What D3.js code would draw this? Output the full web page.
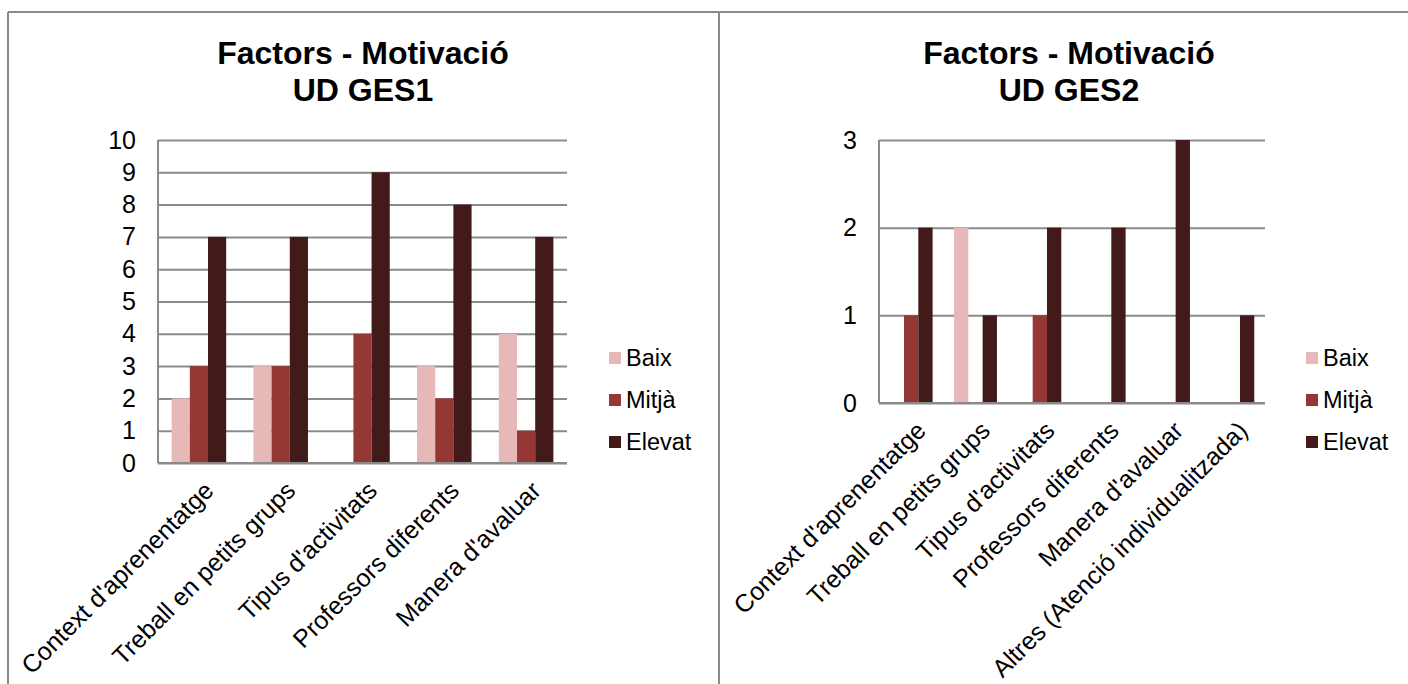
<!DOCTYPE html>
<html>
<head>
<meta charset="utf-8">
<script src="https://cdn.jsdelivr.net/npm/d3@7"></script>
<style>
  html, body { margin: 0; padding: 0; background: #fff; }
  svg { display: block; font-family: "Liberation Sans", Arial, sans-serif; }
</style>
</head>
<body>
<svg id="chart" width="1408" height="684"></svg>
<script>
// Series shared by both panels
const series = ["Baix", "Mitjà", "Elevat"];
const seriesColors = ["#e6b8b7", "#953735", "#421a1a"];

// Panel 1: UD GES1
const categories1 = ["Context d'aprenentatge", "Treball en petits grups", "Tipus d'activitats", "Professors diferents", "Manera d'avaluar"];
const baix1   = [2, 3, 0, 3, 4];
const mitja1  = [3, 3, 4, 2, 1];
const elevat1 = [7, 7, 9, 8, 7];
const ticks1  = [0, 1, 2, 3, 4, 5, 6, 7, 8, 9, 10];

// Panel 2: UD GES2
const categories2 = ["Context d'aprenentatge", "Treball en petits grups", "Tipus d'activitats", "Professors diferents", "Manera d'avaluar", "Altres (Atenció individualitzada)"];
const baix2   = [0, 2, 0, 0, 0, 0];
const mitja2  = [1, 0, 1, 0, 0, 0];
const elevat2 = [2, 1, 2, 2, 3, 1];
const ticks2  = [0, 1, 2, 3];

const svg = d3.select("#chart");
const gridColor = "#8a8a8a";

// Outer table-like frame with a divider between the two panels
const frame = svg.append("g").attr("fill", "none").attr("stroke", gridColor).attr("stroke-width", 2);
frame.append("line").attr("x1", 8).attr("x2", 1408).attr("y1", 12).attr("y2", 12);
frame.append("line").attr("x1", 8).attr("x2", 8).attr("y1", 12).attr("y2", 684);
frame.append("line").attr("x1", 719).attr("x2", 719).attr("y1", 12).attr("y2", 684);

function drawPanel(cfg) {
  const g = svg.append("g");
  const rows = cfg.categories.map((c, i) => ({
    cat: c,
    values: series.map((s, k) => ({ key: s, value: cfg.values[k][i], color: seriesColors[k] }))
  }));

  const x = d3.scaleBand().domain(cfg.categories).range([cfg.x0, cfg.x1]).paddingInner(0).paddingOuter(0);
  const xs = d3.scaleBand().domain(series).range([0, x.bandwidth()]).paddingInner(0).paddingOuter(0.75);
  const y = d3.scaleLinear().domain([0, cfg.max]).range([cfg.yBottom, cfg.yTop]);

  // Title
  const title = g.append("text")
    .attr("x", cfg.titleX).attr("text-anchor", "middle")
    .attr("font-weight", "bold").attr("font-size", 32).attr("fill", "#000");
  title.append("tspan").attr("x", cfg.titleX).attr("y", 64).text("Factors - Motivació");
  title.append("tspan").attr("x", cfg.titleX).attr("y", 101).text(cfg.subtitle);

  // Horizontal gridlines + value labels
  const yAxis = d3.axisLeft(y).tickValues(cfg.ticks).tickFormat(d3.format("d"))
    .tickSize(-(cfg.x1 - cfg.x0)).tickPadding(22);
  const ya = g.append("g").attr("transform", `translate(${cfg.x0},0)`).call(yAxis);
  ya.select(".domain").remove();
  ya.selectAll(".tick line").attr("stroke", gridColor).attr("stroke-width", 2);
  ya.selectAll(".tick text").attr("font-size", 25).attr("fill", "#000")
    .attr("font-family", "Liberation Sans, Arial, sans-serif");

  // Vertical value axis line
  g.append("line").attr("x1", cfg.x0).attr("x2", cfg.x0)
    .attr("y1", cfg.yTop).attr("y2", cfg.yBottom)
    .attr("stroke", gridColor).attr("stroke-width", 2);

  // Bars
  const groups = g.selectAll(".grp").data(rows).join("g")
    .attr("transform", d => `translate(${x(d.cat)},0)`);
  groups.selectAll("rect").data(d => d.values.filter(v => v.value > 0)).join("rect")
    .attr("x", d => xs(d.key))
    .attr("width", xs.bandwidth())
    .attr("y", d => y(d.value))
    .attr("height", d => y(0) - y(d.value))
    .attr("fill", d => d.color);

  // Category axis line on top of bars
  g.append("line").attr("x1", cfg.x0).attr("x2", cfg.x1)
    .attr("y1", y(0)).attr("y2", y(0))
    .attr("stroke", gridColor).attr("stroke-width", 2);

  // Category labels, rotated 45°
  const xAxis = d3.axisBottom(x).tickSize(0).tickPadding(0);
  const xa = g.append("g").attr("transform", `translate(0,${cfg.yBottom})`).call(xAxis);
  xa.select(".domain").remove();
  xa.selectAll(".tick text")
    .attr("font-size", 25).attr("fill", "#000")
    .attr("font-family", "Liberation Sans, Arial, sans-serif")
    .attr("text-anchor", "end")
    .attr("y", 0).attr("dy", "0.35em")
    .attr("transform", "translate(10,23) rotate(-45)");

  // Legend
  const lg = g.append("g").attr("transform", `translate(${cfg.legendX},0)`);
  series.forEach((s, k) => {
    const yy = 352 + k * 42;
    lg.append("rect").attr("x", 0).attr("y", yy).attr("width", 12).attr("height", 12).attr("fill", seriesColors[k]);
    lg.append("text").attr("x", 17).attr("y", yy + 14).attr("font-size", 23.5).attr("fill", "#000").text(s);
  });
}

drawPanel({
  categories: categories1, values: [baix1, mitja1, elevat1], ticks: ticks1, max: 10,
  x0: 158, x1: 567, yTop: 140, yBottom: 463, titleX: 363, subtitle: "UD GES1", legendX: 609
});
drawPanel({
  categories: categories2, values: [baix2, mitja2, elevat2], ticks: ticks2, max: 3,
  x0: 879, x1: 1265, yTop: 140, yBottom: 403, titleX: 1069, subtitle: "UD GES2", legendX: 1306
});
</script>
</body>
</html>
